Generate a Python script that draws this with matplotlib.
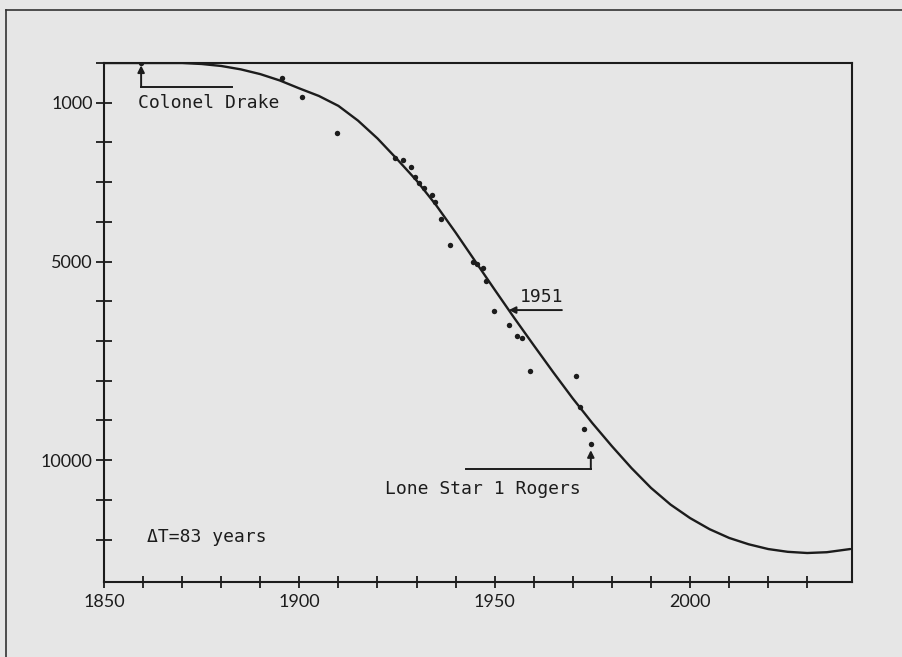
import matplotlib
matplotlib.use("Agg")
import matplotlib.pyplot as plt
from matplotlib.lines import Line2D

# ---------------- data ----------------
# record well depths (year, depth in m)
well_years = [1859.5, 1895.6, 1900.7, 1909.6, 1924.5, 1926.5, 1928.6, 1929.6,
              1930.6, 1931.9, 1934.0, 1934.7, 1936.3, 1938.6, 1944.4, 1945.5,
              1947.0, 1947.8, 1949.8, 1953.7, 1955.7, 1957.0, 1959.0, 1970.8,
              1971.8, 1972.9, 1974.6]
well_depths = [0, 378, 856, 1763, 2393, 2443, 2620, 2871,
               3023, 3149, 3325, 3501, 3929, 4584, 5013, 5063,
               5164, 5491, 6247, 6600, 6877, 6927, 7758, 7884,
               8665, 9219, 9597]

# fitted curve (year, depth in m)
curve_years = [1850, 1860, 1870, 1875, 1880, 1885, 1890, 1895, 1900, 1905,
               1910, 1915, 1920, 1925, 1930, 1935, 1940, 1945, 1950, 1955,
               1960, 1965, 1970, 1975, 1980, 1985, 1990, 1995, 2000, 2005,
               2010, 2015, 2020, 2025, 2030, 2035, 2041]
curve_depths = [0, 0, 0, 25, 75, 160, 280, 440, 640, 830,
                1080, 1450, 1900, 2420, 2960, 3580, 4270, 4990, 5710, 6420,
                7110, 7790, 8450, 9070, 9650, 10200, 10700, 11120, 11460, 11740,
                11960, 12120, 12240, 12310, 12340, 12320, 12240]

y_tick_values = [0, 1000, 2000, 3000, 4000, 5000, 6000, 7000, 8000, 9000,
                 10000, 11000, 12000]
y_tick_labels = ["", "1000", "", "", "", "5000", "", "", "", "",
                 "10000", "", ""]
x_tick_values = [1850, 1860, 1870, 1880, 1890, 1900, 1910, 1920, 1930, 1940,
                 1950, 1960, 1970, 1980, 1990, 2000, 2010, 2020, 2030]
x_tick_labels = ["1850", "", "", "", "", "1900", "", "", "", "",
                 "1950", "", "", "", "", "2000", "", "", ""]

# ---------------- figure ----------------
W, H = 902, 657
bg = "#e6e6e6"
ink = "#1c1c1c"
fig = plt.figure(figsize=(W / 100, H / 100), dpi=100, facecolor=bg)

# page frame lines of the scanned page
fig.add_artist(Line2D([6 / W, 1.0], [1 - 10 / H, 1 - 10 / H], color="#333333", lw=1.2))
fig.add_artist(Line2D([6 / W, 6 / W], [0.0, 1 - 10 / H], color="#333333", lw=1.2))

left, right, top, bottom = 104, 852, 63, 582
ax = fig.add_axes([left / W, 1 - bottom / H, (right - left) / W, (bottom - top) / H])
ax.set_facecolor("none")
ax.set_xlim(1850, 2041.45)
ax.set_ylim(13070, 0)

for s in ax.spines.values():
    s.set_linewidth(1.5)
    s.set_color(ink)

tick_font = "Lato"
ax.set_yticks(y_tick_values)
ax.set_yticklabels(y_tick_labels, fontfamily=tick_font, fontsize=13, color=ink)
ax.set_xticks(x_tick_values)
ax.set_xticklabels(x_tick_labels, fontfamily=tick_font, fontsize=13, color=ink)
ax.tick_params(axis="y", direction="inout", length=12, width=1.3, color=ink, pad=2,
               left=True, right=False)
ax.tick_params(axis="x", direction="inout", length=9, width=1.3, color=ink, pad=4,
               bottom=True, top=False)

# curve and points
ax.plot(curve_years, curve_depths, color=ink, lw=1.7, solid_capstyle="round")
ax.plot(well_years, well_depths, "o", color=ink, ms=3.9, mec="none")

mono = "DejaVu Sans Mono"
fs = 13

# Colonel Drake annotation
ax.text(1858.7, 1008, "Colonel Drake", fontfamily=mono, fontsize=fs, color=ink,
        ha="left", va="center")
ax.plot([1882.8, 1859.5], [605, 605], color=ink, lw=1.4)
ax.annotate("", xy=(1859.5, 60), xytext=(1859.5, 605),
            arrowprops=dict(arrowstyle="-|>", color=ink, lw=1.4, mutation_scale=10,
                            shrinkA=0, shrinkB=0))

# 1951 annotation
ax.text(1962.1, 5894, "1951", fontfamily=mono, fontsize=fs, color=ink,
        ha="center", va="center")
ax.annotate("", xy=(1953.6, 6222), xytext=(1967.2, 6222),
            arrowprops=dict(arrowstyle="-|>", color=ink, lw=1.4, mutation_scale=10,
                            shrinkA=0, shrinkB=0))

# Lone Star 1 Rogers annotation
ax.text(1921.9, 10730, "Lone Star 1 Rogers", fontfamily=mono, fontsize=fs, color=ink,
        ha="left", va="center")
ax.plot([1942.7, 1974.6], [10227, 10227], color=ink, lw=1.4)
ax.annotate("", xy=(1974.6, 9750), xytext=(1974.6, 10227),
            arrowprops=dict(arrowstyle="-|>", color=ink, lw=1.4, mutation_scale=10,
                            shrinkA=0, shrinkB=0))

# Delta T
ax.text(1861.0, 11940, "ΔT=83 years", fontfamily=mono, fontsize=fs, color=ink,
        ha="left", va="center")

fig.savefig("out.png", dpi=100, facecolor=bg)
